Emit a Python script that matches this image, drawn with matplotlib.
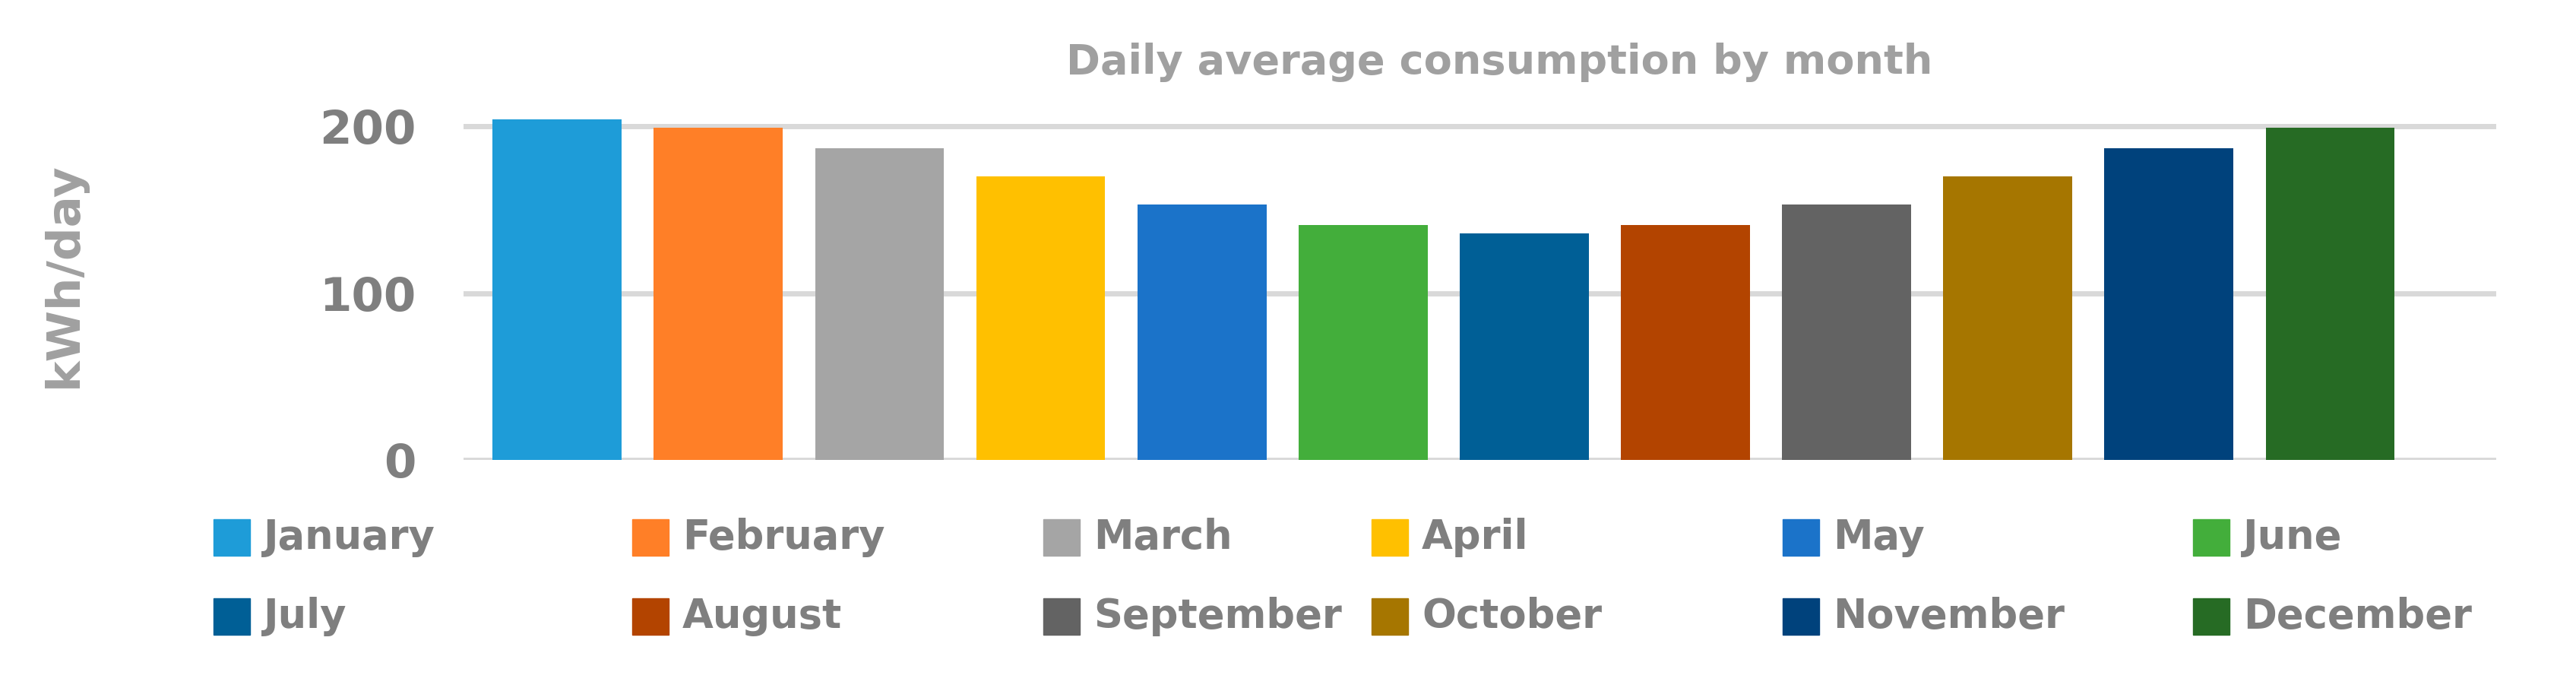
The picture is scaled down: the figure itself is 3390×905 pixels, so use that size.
import matplotlib.pyplot as plt
from matplotlib.patches import Rectangle

months = ['January', 'February', 'March', 'April', 'May', 'June',
          'July', 'August', 'September', 'October', 'November', 'December']
kwh_day = [204, 199, 187, 170, 153, 141, 136, 141, 153, 170, 187, 199]
colors = ['#1E9CD8', '#FF7F27', '#A5A5A5', '#FFC000', '#1B73C9', '#43AE3B',
          '#005F96', '#B34400', '#636363', '#A67600', '#00427C', '#266B24']

plt.rcParams['font.family'] = ['DejaVu Sans']
grey = '#7F7F7F'

fig = plt.figure(figsize=(33.9, 9.05), dpi=100)
ax = fig.add_axes([0.18, 0.331, 0.789, 0.534])
x = list(range(len(months)))
ax.bar(x, kwh_day, width=0.8, color=colors, zorder=3)
ax.set_xlim(-0.58, 12.03)
ax.set_ylim(0, 220)
ax.set_yticks([0, 100, 200])
ax.set_xticks([])
ax.grid(axis='y', color='#D9D9D9', linewidth=5, zorder=0)
for s in ax.spines.values():
    s.set_visible(False)
ax.tick_params(axis='y', length=0, labelsize=44, labelcolor=grey, pad=45)
for t in ax.get_yticklabels():
    t.set_fontweight('bold')

fig.text(0.025, 0.6, 'kWh/day', rotation=90, ha='center', va='center',
         fontsize=44, color='#A0A0A0', fontweight='bold')
fig.text(0.582, 0.909, 'Daily average consumption by month', ha='center',
         va='center', fontsize=39, color='#A0A0A0', fontweight='bold')

# legend laid out in two rows of six, like the original
col_x = [281, 832, 1373, 1805, 2346, 2886]
row_y = [707, 811]
sq = 48
for i, (m, c) in enumerate(zip(months, colors)):
    px = col_x[i % 6]
    py = row_y[i // 6]
    fig.patches.append(Rectangle((px / 3390, 1 - (py + sq / 2) / 905),
                                 sq / 3390, sq / 905, color=c,
                                 transform=fig.transFigure, figure=fig))
    fig.text((px + sq + 18) / 3390, 1 - py / 905, m, ha='left',
             va='center', fontsize=38, color=grey, fontweight='bold')

fig.savefig('out.png', dpi=100)
